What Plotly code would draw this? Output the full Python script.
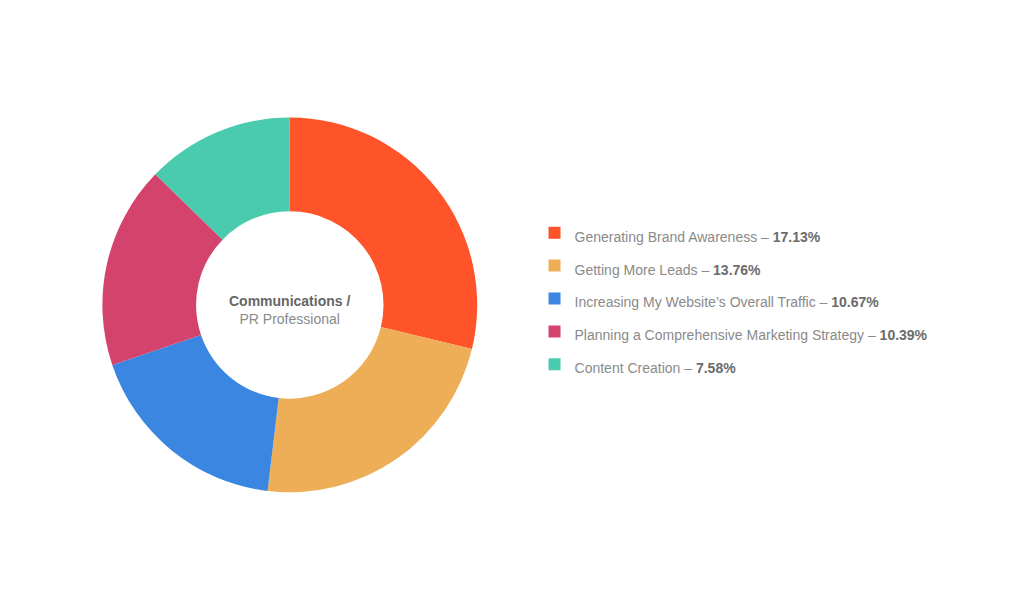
import plotly.graph_objects as go

categories = [
    "Generating Brand Awareness",
    "Getting More Leads",
    "Increasing My Website’s Overall Traffic",
    "Planning a Comprehensive Marketing Strategy",
    "Content Creation",
]
values = [17.13, 13.76, 10.67, 10.39, 7.58]
colors = ["#FF5329", "#EDAE57", "#3A86E0", "#D3436E", "#4ACBAE"]
center_title = "Communications /"
center_subtitle = "PR Professional"

labels = [
    f"<span style='font-size:14px'>{c} – <b style='color:#6b6b6b'>{v:.2f}%</b></span>"
    for c, v in zip(categories, values)
]

fig = go.Figure(
    go.Pie(
        labels=labels,
        values=values,
        marker=dict(colors=colors, line=dict(width=0)),
        hole=0.5,
        sort=False,
        direction="clockwise",
        rotation=0,
        textinfo="none",
        hoverinfo="label",
        domain=dict(x=[0.1, 0.466], y=[0.2, 0.81]),
    )
)

fig.add_annotation(
    x=0.283, y=0.497, xref="paper", yref="paper",
    xanchor="center", yanchor="middle",
    text=f"<b style='color:#666666'>{center_title}</b><br>{center_subtitle}",
    showarrow=False,
    font=dict(family="Liberation Sans, Arial, sans-serif", size=14, color="#8a8a8a"),
    align="center",
)

fig.update_layout(
    width=1024,
    height=616,
    margin=dict(l=0, r=0, t=0, b=0),
    paper_bgcolor="white",
    plot_bgcolor="white",
    showlegend=True,
    legend=dict(
        x=0.522, y=0.515, xanchor="left", yanchor="middle",
        font=dict(family="Liberation Sans, Arial, sans-serif", size=23, color="#8a8a8a"),
        bgcolor="rgba(0,0,0,0)",
        itemclick=False,
        itemdoubleclick=False,
    ),
)

fig.write_html("out.html")
